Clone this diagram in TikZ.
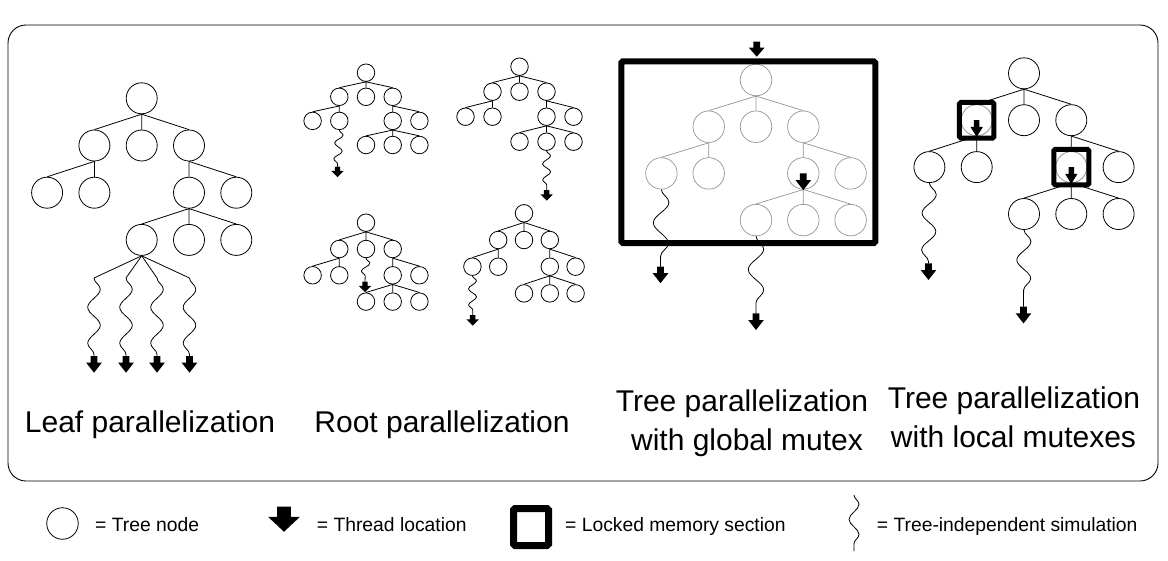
\documentclass[tikz,border=0pt]{standalone}
\usepackage{fontspec}
\setmainfont{Liberation Sans}
\usetikzlibrary{decorations.pathmorphing}
\tikzset{
  tn/.style={circle,draw,line width=0.8pt,minimum size=31pt,inner sep=0pt},
  te/.style={line width=0.8pt},
  tn r/.style={}, tn a/.style={}, tn b/.style={}, tn c/.style={},
  tn aa/.style={}, tn ab/.style={}, tn ca/.style={}, tn cb/.style={},
  tn caa/.style={}, tn cab/.style={}, tn cac/.style={},
  mtree/.pic={
    \node[tn,tn r] (-r) at (0,0) {};
    \node[tn,tn a] (-a) at (-\tdx,\tdy) {};
    \node[tn,tn b] (-b) at (0,\tdy) {};
    \node[tn,tn c] (-c) at (\tdx,\tdy) {};
    \node[tn,tn aa] (-aa) at ({-2*\tdx},{2*\tdy}) {};
    \node[tn,tn ab] (-ab) at (-\tdx,{2*\tdy}) {};
    \node[tn,tn ca] (-ca) at (\tdx,{2*\tdy}) {};
    \node[tn,tn cb] (-cb) at ({2*\tdx},{2*\tdy}) {};
    \node[tn,tn caa] (-caa) at (0,{3*\tdy}) {};
    \node[tn,tn cab] (-cab) at (\tdx,{3*\tdy}) {};
    \node[tn,tn cac] (-cac) at ({2*\tdx},{3*\tdy}) {};
    \draw[te] (-r.south) -- (-a.north) (-r.south) -- (-b.north) (-r.south) -- (-c.north)
      (-a.south) -- (-aa.north) (-a.south) -- (-ab.north)
      (-c.south) -- (-ca.north) (-c.south) -- (-cb.north)
      (-ca.south) -- (-caa.north) (-ca.south) -- (-cab.north) (-ca.south) -- (-cac.north);
  },
  thread/.pic={\fill (-3.4,0) -- (3.4,0) -- (3.4,6.7) -- (7.8,6.7) -- (0,16.7) -- (-7.8,6.7) -- (-3.4,6.7) -- cycle;},
  sim/.style 2 args={decorate,decoration={snake,amplitude=#1,segment length=#2},line width=0.8pt},
  lockbox/.style={draw,line width=6pt,rounded corners=1.5pt,inner sep=0pt},
  title/.style={inner sep=0pt,anchor=base,font=\fontsize{30}{36}\selectfont},
  leg/.style={inner sep=0pt,anchor=base west,font=\fontsize{19.3}{23}\selectfont},
}
\begin{document}
\begin{tikzpicture}[x=1pt,y=-1pt]
\useasboundingbox (0,0) rectangle (1168,560);
% frame
\draw[line width=0.9pt,rounded corners=18pt] (8,25) rectangle (1158,481);

% ---------- Leaf parallelization ----------
\begin{scope}
\def\tdx{47.3}\def\tdy{47.2}
\pic (L) at (141.7,98.3) {mtree};
\end{scope}
\coordinate (L1s) at (94,278);   \coordinate (L1e) at (94,356);
\coordinate (L2s) at (126,278);  \coordinate (L2e) at (126,356);
\coordinate (L3s) at (157,278);  \coordinate (L3e) at (157,356);
\coordinate (L4s) at (189.5,278);\coordinate (L4e) at (189.5,356);
\foreach \i in {1,2,3,4}{
  \draw[te] (L-caa.south) -- (L\i s);
  \draw[sim={6.3pt}{36pt}] (L\i s) -- (L\i e);
  \pic at (L\i e) {thread};
}
\node[title] (tL) at (150,432) {Leaf parallelization};

% ---------- Root parallelization ----------
\begin{scope}[tn/.style={circle,draw,line width=0.8pt,minimum size=17.5pt,inner sep=0pt}]
\def\tdx{26.7}\def\tdy{24.1}
\pic (RA) at (366,72.7) {mtree};
\def\tdx{27}\def\tdy{25}
\pic (RB) at (519.5,66.7) {mtree};
\def\tdx{26.7}\def\tdy{26.3}
\pic (RC) at (366,222.7) {mtree};
\def\tdx{25.8}\def\tdy{26.7}
\pic (RD) at (524,213.3) {mtree};
\end{scope}
\coordinate (RAe) at (337.5,166.5);
\coordinate (RBe) at (546.7,190);
\coordinate (RCe) at (365,281.5);
\coordinate (RDe) at (472.7,315);
\draw[sim={4pt}{16pt}] (RA-ab.south) -- (RAe);
\draw[sim={4pt}{16pt}] (RB-cab.south) -- (RBe);
\draw[sim={4pt}{16pt}] (RC-b.south) -- (RCe);
\draw[sim={4pt}{16pt}] (RD-aa.south) -- (RDe);
\foreach \p in {RAe,RBe,RCe,RDe}{\pic[xscale=0.8,yscale=0.64] at (\p) {thread};}
\node[title] (tR) at (442,432) {Root parallelization};

% ---------- Tree parallelization, global mutex ----------
\begin{scope}[tn/.style={circle,draw=black!42,line width=0.7pt,minimum size=31.5pt,inner sep=0pt},
              te/.style={draw=black!42,line width=0.7pt}]
\def\tdx{47.3}\def\tdy{46.7}
\pic (G) at (756,80) {mtree};
\end{scope}
\draw[lockbox] (621.3,61.3) rectangle (875.3,243);
\coordinate (G1e) at (660.5,266.5);
\coordinate (G2e) at (756,313.3);
\draw[sim={7.7pt}{41pt}] (G-aa.south) -- (G1e);
\draw[sim={7.7pt}{41pt}] (G-caa.south) -- (G2e);
\pic at (G1e) {thread};
\pic at (G2e) {thread};
\coordinate (Gtop) at (756.7,41.7);
\pic[yscale=0.9] at (Gtop) {thread};
\pic at (G-ca.center) {thread};
\node[title] (tG1) at (742,411) {Tree parallelization};
\node[title] (tG2) at (747,450) {with global mutex};

% ---------- Tree parallelization, local mutexes ----------
\begin{scope}[tn a/.style={draw=black!42},tn ca/.style={draw=black!42}]
\def\tdx{47.3}\def\tdy{46.9}
\pic (P) at (1024,73.3) {mtree};
\end{scope}
\node[lockbox,line width=5pt,minimum width=34.5pt,minimum height=35.7pt] (PL1) at (P-a) {};
\node[lockbox,line width=5pt,minimum width=35pt,minimum height=35.7pt] (PL2) at (P-ca) {};
\pic[xscale=0.8] at (P-a.center) {thread};
\pic[xscale=0.8] at (P-ca.center) {thread};
\coordinate (P1e) at (928.5,263.3);
\coordinate (P2e) at (1023.5,306.7);
\draw[sim={7pt}{37pt}] (P-aa.south) -- (P1e);
\draw[sim={7pt}{37pt}] (P-caa.south) -- (P2e);
\pic at (P1e) {thread};
\pic at (P2e) {thread};
\node[title] (tP1) at (1014,408.5) {Tree parallelization};
\node[title] (tP2) at (1013.5,447.5) {with local mutexes};

% ---------- legend ----------
\node[tn,minimum size=31.5pt] (legc) at (62.5,523.5) {};
\node[leg] (legct) at (95,531) {= Tree node};
\coordinate (lega) at (284,506.7);
\pic[xscale=2.05,yscale=1.5] at (lega) {thread};
\node[leg] (legat) at (316.7,531) {= Thread location};
\node[lockbox,line width=7pt,minimum width=35pt,minimum height=37pt] (legs) at (531,527) {};
\node[leg] (legst) at (565,531) {= Locked memory section};
\coordinate (legw1) at (854,495);
\coordinate (legw2) at (854,551);
\draw[sim={5pt}{30pt}] (legw1) -- (legw2);
\node[leg] (legwt) at (876.7,531) {= Tree-independent simulation};
\end{tikzpicture}
\end{document}
